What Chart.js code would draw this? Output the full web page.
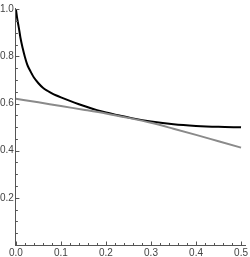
<!DOCTYPE html>
<html>
<head>
<meta charset="utf-8">
<script src="https://cdn.jsdelivr.net/npm/chart.js@4.4.1/dist/chart.umd.min.js"></script>
<style>
  html, body { margin: 0; padding: 0; background: #fff; }
  #wrap { width: 250px; height: 257px; }
</style>
</head>
<body>
<div id="wrap"><canvas id="plot" width="250" height="257"></canvas></div>
<script>
// curve values
const xBlack = [0, 0.0025, 0.005, 0.0075, 0.01, 0.015, 0.02, 0.025, 0.03, 0.035, 0.04, 0.05, 0.06, 0.07, 0.08, 0.09, 0.1, 0.12, 0.14, 0.16, 0.18, 0.2, 0.23, 0.26, 0.3, 0.35, 0.4, 0.45, 0.5];
const yBlack = [1.0, 0.965, 0.937, 0.91, 0.88, 0.835, 0.797, 0.766, 0.745, 0.727, 0.71, 0.686, 0.667, 0.654, 0.643, 0.634, 0.626, 0.611, 0.597, 0.584, 0.572, 0.562, 0.549, 0.537, 0.524, 0.512, 0.505, 0.501, 0.499];

const xGray = [0, 0.05, 0.1, 0.15, 0.2, 0.25, 0.3, 0.35, 0.4, 0.45, 0.5];
const yGray = [0.62, 0.605, 0.589, 0.574, 0.558, 0.539, 0.518, 0.493, 0.467, 0.44, 0.413];

// axis ticks
const xMajor = [0, 0.1, 0.2, 0.3, 0.4, 0.5];
const xMinor = [0.02, 0.04, 0.06, 0.08, 0.12, 0.14, 0.16, 0.18, 0.22, 0.24, 0.26, 0.28, 0.32, 0.34, 0.36, 0.38, 0.42, 0.44, 0.46, 0.48];
const yMajor = [0.2, 0.4, 0.6, 0.8, 1.0];
const yMinor = [0.05, 0.1, 0.15, 0.25, 0.3, 0.35, 0.45, 0.5, 0.55, 0.65, 0.7, 0.75, 0.85, 0.9, 0.95];

function toPoints(xs, ys) {
    return xs.map((x, i) => ({ x: x, y: ys[i] }));
}

// inward tick marks, Mathematica style
const innerTicks = {
    id: 'innerTicks',
    afterDraw(chart) {
        const ctx = chart.ctx;
        const xs = chart.scales.x, ys = chart.scales.y;
        const x0 = xs.getPixelForValue(0), y0 = ys.getPixelForValue(0);
        ctx.save();
        ctx.strokeStyle = '#555';
        ctx.lineWidth = 1;
        ctx.beginPath();
        xMajor.forEach(v => { const p = Math.round(xs.getPixelForValue(v)) + 0.5; ctx.moveTo(p, y0); ctx.lineTo(p, y0 - 3.5); });
        xMinor.forEach(v => { const p = Math.round(xs.getPixelForValue(v)) + 0.5; ctx.moveTo(p, y0); ctx.lineTo(p, y0 - 2); });
        yMajor.forEach(v => { const p = Math.round(ys.getPixelForValue(v)) + 0.5; ctx.moveTo(x0, p); ctx.lineTo(x0 + 3.5, p); });
        yMinor.forEach(v => { const p = Math.round(ys.getPixelForValue(v)) + 0.5; ctx.moveTo(x0, p); ctx.lineTo(x0 + 2, p); });
        ctx.stroke();
        ctx.restore();
    }
};

const config = {
    type: 'scatter',
    data: {
        datasets: [
            {
                label: 'gray',
                data: toPoints(xGray, yGray),
                showLine: true,
                borderColor: '#8a8a8a',
                borderWidth: 2,
                pointRadius: 0,
                cubicInterpolationMode: 'monotone'
            },
            {
                label: 'black',
                data: toPoints(xBlack, yBlack),
                showLine: true,
                borderColor: '#000',
                borderWidth: 2,
                pointRadius: 0,
                cubicInterpolationMode: 'monotone'
            }
        ]
    },
    options: {
        responsive: false,
        animation: false,
        layout: { padding: { left: -2, right: -3, top: -2, bottom: -4 } },
        plugins: { legend: { display: false }, tooltip: { enabled: false } },
        scales: {
            x: {
                type: 'linear',
                min: 0,
                max: 0.51,
                afterBuildTicks: s => { s.ticks = xMajor.map(v => ({ value: v })); },
                grid: { display: false, drawTicks: false },
                border: { display: true, color: '#555', width: 1 },
                ticks: {
                    padding: 2,
                    maxRotation: 0,
                    color: '#444',
                    font: { family: 'Liberation Sans', size: 10 },
                    callback: v => v.toFixed(1)
                }
            },
            y: {
                type: 'linear',
                min: 0,
                max: 1.005,
                afterBuildTicks: s => { s.ticks = yMajor.map(v => ({ value: v })); },
                grid: { display: false, drawTicks: false },
                border: { display: true, color: '#555', width: 1 },
                ticks: {
                    padding: 2,
                    color: '#444',
                    font: { family: 'Liberation Sans', size: 10 },
                    callback: v => v.toFixed(1)
                }
            }
        }
    },
    plugins: [innerTicks]
};

window.onload = function() {
    const ctx = document.getElementById('plot').getContext('2d');
    new Chart(ctx, config);
};
</script>
</body>
</html>
